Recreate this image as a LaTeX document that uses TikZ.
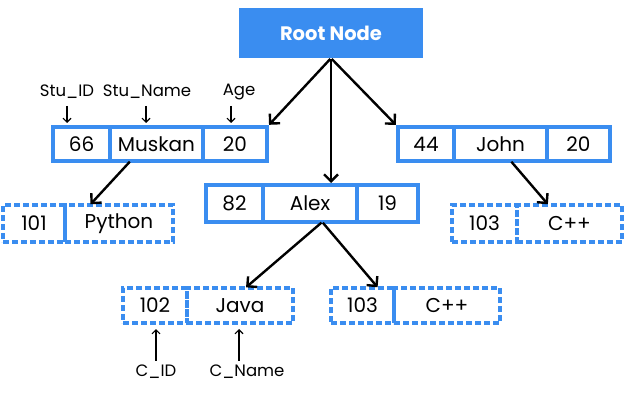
\documentclass[tikz,border=0pt]{standalone}
\usepackage{fontspec}
\setmainfont{Poppins}
\usetikzlibrary{arrows.meta,calc}
\definecolor{nodeblue}{HTML}{3A8DF0}
\newcommand\mkcell[7]{\node[#2,minimum width={#4-#3},minimum height={#6-#5}] (#1) at ({(#3+#4)/2},{(#5+#6)/2}) {#7};}
\begin{document}
\begin{tikzpicture}[x=1pt,y=-1pt,
  cell/.style={draw=nodeblue,line width=3.5pt,inner sep=0pt,outer sep=0pt,font=\fontsize{20}{23}\selectfont,text=black},
  solidcell/.style={cell},
  dashcell/.style={cell,dash pattern=on 6pt off 3pt,line width=3.2pt},
  link/.style={line width=2.4pt,-{Straight Barb[length=7pt,width=14pt]}},
  lab/.style={font=\fontsize{16.5}{19}\selectfont,inner sep=1pt},
  labarrow/.style={line width=1.1pt,-{Straight Barb[length=4pt,width=8pt]}}]
\useasboundingbox (0,0) rectangle (629,401);
% root
\node[fill=nodeblue,text=white,font=\fontsize{19.5}{23}\selectfont\bfseries,minimum width=184pt,minimum height=50pt,inner sep=0pt] (root) at (331,33) {Root Node};
% Muskan
\mkcell{m1}{solidcell}{53}{110}{127}{161}{66}
\mkcell{m2}{solidcell}{110}{203}{127}{161}{Muskan}
\mkcell{m3}{solidcell}{203}{267}{127}{161}{20}
% Alex
\mkcell{a1}{solidcell}{206}{263}{185}{222}{82}
\mkcell{a2}{solidcell}{263}{357}{185}{222}{Alex}
\mkcell{a3}{solidcell}{357}{418}{185}{222}{19}
% John
\mkcell{j1}{solidcell}{398}{454}{127}{161}{44}
\mkcell{j2}{solidcell}{454}{547}{127}{161}{John}
\mkcell{j3}{solidcell}{547}{610}{127}{161}{20}
% courses
\mkcell{p1}{dashcell}{3}{65}{205}{242}{101}
\mkcell{p2}{dashcell}{65}{173}{205}{242}{Python}
\mkcell{c1}{dashcell}{452}{517}{205}{242}{103}
\mkcell{c2}{dashcell}{517}{622}{205}{242}{C++}
\mkcell{v1}{dashcell}{123}{187}{288}{323}{102}
\mkcell{v2}{dashcell}{187}{293}{288}{323}{Java}
\mkcell{d1}{dashcell}{331}{394}{288}{323}{103}
\mkcell{d2}{dashcell}{394}{500}{288}{323}{C++}
% links
\draw[link,shorten <=1pt,shorten >=3pt] (root.south) -- (m3.north east);
\draw[link,shorten <=1pt,shorten >=2pt] (root.south) -- (root.south |- a2.north);
\draw[link,shorten <=1pt,shorten >=3pt] (root.south) -- (j1.north west);
\draw[link,shorten <=1pt,shorten >=1pt] ($(m2.south west)!0.22!(m2.south east)$) -- ($(p2.north west)!0.23!(p2.north east)$);
\draw[link,shorten <=1pt,shorten >=1pt] ($(j2.south west)!0.61!(j2.south east)$) -- ($(c2.north west)!0.3!(c2.north east)$);
\coordinate (split) at ($(a2.south west)!0.63!(a2.south east)$);
\draw[link,shorten <=1pt,shorten >=1pt] (split) -- ($(v2.north west)!0.55!(v2.north east)$);
\draw[link,shorten <=1pt,shorten >=1pt] (split) -- ($(d1.north west)!0.75!(d1.north east)$);
% labels
\node[lab] (lid) at (67,92) {Stu\_ID};
\node[lab] (lname) at (147,92) {Stu\_Name};
\node[lab] (lage) at (239,92) {Age};
\draw[labarrow] (67,106) -- (67,123);
\draw[labarrow] (146,106) -- (146,123);
\draw[labarrow] (231,106) -- (231,123);
\node[lab] (cid) at (156,372) {C\_ID};
\node[lab] (cname) at (247,372) {C\_Name};
\draw[labarrow] (cid.north -| 156,0) ++(0,-3) -- (156,329);
\draw[labarrow] (cname.north -| 239,0) ++(0,-3) -- (239,329);
\end{tikzpicture}
\end{document}
